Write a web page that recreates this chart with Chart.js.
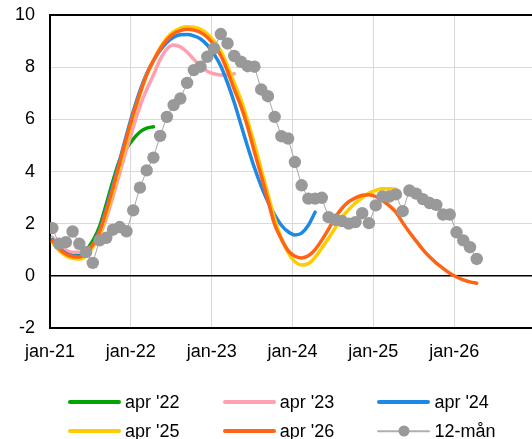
<!DOCTYPE html>
<html>
<head>
<meta charset="utf-8">
<script src="https://cdn.jsdelivr.net/npm/chart.js@4"></script>
<style>
html,body{margin:0;padding:0;overflow:hidden;background:#fff;width:532px;height:439px;}
#wrap{position:absolute;left:0;top:0;width:535px;height:439px;}
#legend{position:absolute;left:0;top:0;width:532px;height:439px;pointer-events:none;font-family:"Liberation Sans",Arial,sans-serif;font-size:18px;color:#000;}
.li{position:absolute;height:22px;display:flex;align-items:center;white-space:nowrap;}
.sw{position:relative;width:53px;height:22px;margin-right:4px;}
.sw .ln{position:absolute;left:0;right:0;top:50%;transform:translateY(-50%);border-radius:2px;}
.sw .dt{position:absolute;left:50%;top:50%;width:11px;height:11px;border-radius:50%;transform:translate(-50%,-50%);}
</style>
</head>
<body>
<div id="wrap"><canvas id="c" width="535" height="439"></canvas></div>
<div id="legend"></div>
<script>
// ---- data (months from jan-21; index 0 = jan-21) ----
const tickLabels = ['jan-21','jan-22','jan-23','jan-24','jan-25','jan-26'];
const tickMonths = [0, 12, 24, 36, 48, 60];
const seriesNames = ["apr '22", "apr '23", "apr '24", "apr '25", "apr '26", "12-mån"];
const seriesColors = ['#00a300', '#ff9fb0', '#1e88e5', '#ffcc00', '#ff6414', '#999999'];

const fcApr22 = [1.45,1.1,0.88,0.8,0.82,1.0,1.35,1.9,2.75,3.65,4.45,4.9,5.25,5.52,5.67,5.72];
const fcApr23 = [1.5,1.2,1.0,0.92,0.92,1.0,1.2,1.55,2.2,3.05,3.95,4.85,5.7,6.5,7.15,7.7,8.3,8.7,8.85,8.78,8.58,8.3,8.05,7.85,7.75,7.7,7.7,7.75];
const fcApr24 = [1.4,1.08,0.88,0.78,0.76,0.88,1.2,1.75,2.6,3.5,4.45,5.4,6.3,7.1,7.75,8.25,8.65,8.95,9.15,9.24,9.25,9.2,9.08,8.85,8.5,8.05,7.4,6.65,5.8,4.95,4.15,3.45,2.85,2.35,1.95,1.7,1.58,1.65,1.95,2.45];
const fcApr25 = [1.3,0.98,0.78,0.68,0.66,0.78,1.1,1.6,2.35,3.25,4.2,5.15,6.1,6.95,7.7,8.25,8.75,9.12,9.36,9.5,9.55,9.53,9.45,9.28,9.0,8.62,8.05,7.4,6.75,5.95,5.05,4.1,3.15,2.2,1.45,0.9,0.55,0.43,0.48,0.72,1.08,1.45,1.85,2.25,2.55,2.8,3.0,3.18,3.28,3.35,3.35,3.33];
const fcApr26 = [1.35,1.05,0.85,0.75,0.73,0.88,1.2,1.7,2.5,3.4,4.35,5.3,6.2,7.0,7.72,8.25,8.7,9.05,9.28,9.4,9.45,9.42,9.33,9.15,8.85,8.45,7.85,7.15,6.5,5.7,4.75,3.85,2.9,1.98,1.42,0.98,0.76,0.7,0.78,1.02,1.38,1.8,2.25,2.6,2.85,3.0,3.1,3.12,3.05,2.9,2.7,2.45,2.05,1.68,1.35,1.02,0.74,0.5,0.3,0.11,-0.03,-0.14,-0.22,-0.27];
const outcome12m = [1.84,1.24,1.30,1.71,1.24,0.92,0.51,1.37,1.47,1.78,1.88,1.72,2.52,3.39,4.05,4.54,5.37,6.10,6.55,6.80,7.40,7.89,8.02,8.40,8.72,9.27,8.91,8.43,8.21,8.04,8.02,7.15,6.89,6.10,5.36,5.27,4.37,3.48,2.97,2.97,3.00,2.26,2.16,2.11,2.01,2.07,2.41,2.03,2.71,3.05,3.05,3.13,2.49,3.28,3.16,2.95,2.80,2.73,2.36,2.36,1.68,1.37,1.11,0.66];
const yTicks = [-2, 0, 2, 4, 6, 8, 10];

// monthly values are dated a little into each month
const dayOffset = 0.35;
const toPts = arr => arr.map((v, i) => ({x: i + dayOffset, y: v}));

const curveSeries = [fcApr22, fcApr23, fcApr24, fcApr25, fcApr26];
const datasets = curveSeries.map((arr, k) => ({
  label: seriesNames[k],
  data: toPts(arr),
  borderColor: seriesColors[k],
  backgroundColor: seriesColors[k],
  borderWidth: 3.5,
  pointRadius: 0,
  cubicInterpolationMode: 'monotone',
  fill: false,
  order: 10 - k,
  borderCapStyle: 'round'
}));
datasets.push({
  label: seriesNames[5],
  data: toPts(outcome12m),
  borderColor: '#a6a6a6',
  backgroundColor: seriesColors[5],
  borderWidth: 1,
  pointRadius: 6.2,
  pointBorderWidth: 0,
  pointBackgroundColor: seriesColors[5],
  tension: 0,
  order: 0
});

const framePlugin = {
  id: 'frame',
  afterDraw(chart) {
    const {ctx, chartArea: a} = chart;
    ctx.save();
    ctx.strokeStyle = '#000';
    ctx.lineWidth = 2;
    ctx.beginPath();
    ctx.moveTo(a.left, a.top);
    ctx.lineTo(a.right, a.top);
    ctx.lineTo(a.right, a.bottom);
    ctx.stroke();
    ctx.restore();
  }
};

Chart.defaults.font.family = '"Liberation Sans", Arial, sans-serif';
Chart.defaults.font.size = 18;
Chart.defaults.color = '#000';

new Chart(document.getElementById('c'), {
  type: 'line',
  data: {datasets},
  options: {
    responsive: false,
    animation: false,
    events: [],
    layout: {autoPadding: false, padding: {left: 0, top: 15, right: 0, bottom: 63}},
    plugins: {legend: {display: false}, tooltip: {enabled: false}},
    scales: {
      x: {
        type: 'linear',
        min: 0,
        max: 72,
        afterBuildTicks: s => { s.ticks = tickMonths.map(v => ({value: v})); },
        ticks: {
          padding: 13,
          maxRotation: 0,
          autoSkip: false,
          callback: v => tickLabels[tickMonths.indexOf(v)] ?? ''
        },
        grid: {color: '#d9d9d9', lineWidth: 1, drawTicks: false},
        border: {color: '#000', width: 2}
      },
      y: {
        min: -2,
        max: 10,
        afterBuildTicks: s => { s.ticks = yTicks.map(v => ({value: v})); },
        afterFit: s => { s.paddingTop = 11; s.paddingBottom = 11; },
        ticks: {padding: 15},
        grid: {
          drawTicks: false,
          color: c => c.tick && c.tick.value === 0 ? '#000' : '#d9d9d9',
          lineWidth: c => c.tick && c.tick.value === 0 ? 1.6 : 1
        },
        border: {color: '#000', width: 2}
      }
    }
  },
  plugins: [framePlugin]
});

// ---- HTML legend (3 columns x 2 rows) ----
const leg = document.getElementById('legend');
const rowY = [402, 431];
seriesNames.forEach((name, k) => {
  const col = k % 3, row = Math.floor(k / 3);
  const d = document.createElement('div');
  d.className = 'li';
  d.style.left = (68 + col * 154.7) + 'px';
  d.style.top = (rowY[row] - 11) + 'px';
  const sw = document.createElement('span');
  sw.className = 'sw';
  const ln = document.createElement('span');
  ln.className = 'ln';
  if (k < 5) {
    ln.style.height = '4px';
    ln.style.background = seriesColors[k];
    sw.appendChild(ln);
  } else {
    ln.style.height = '1.5px';
    ln.style.background = '#b0b0b0';
    sw.appendChild(ln);
    const dt = document.createElement('span');
    dt.className = 'dt';
    dt.style.background = seriesColors[k];
    sw.appendChild(dt);
  }
  d.appendChild(sw);
  const t = document.createElement('span');
  t.textContent = name;
  d.appendChild(t);
  leg.appendChild(d);
});
</script>
</body>
</html>
